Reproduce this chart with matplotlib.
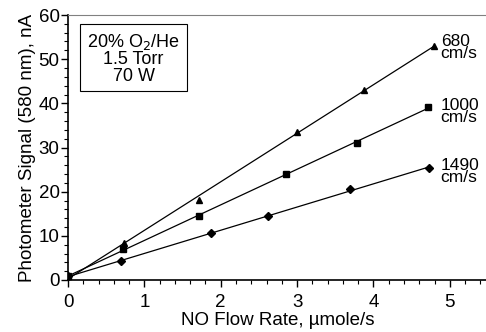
import matplotlib.pyplot as plt
import numpy as np
from matplotlib.ticker import MultipleLocator

plt.rcParams["font.family"] = ["Liberation Sans", "DejaVu Sans"]

# NO flow rate (umole/s) vs photometer signal (nA) for three flow velocities
x_680 = [0.0, 0.73, 1.72, 3.0, 3.88, 4.79]
y_680 = [0.8, 8.3, 18.1, 33.4, 43.1, 53.0]

x_1000 = [0.0, 0.72, 1.71, 2.86, 3.78, 4.72]
y_1000 = [0.8, 7.1, 14.4, 23.9, 31.1, 39.2]

x_1490 = [0.0, 0.69, 1.87, 2.62, 3.69, 4.73]
y_1490 = [0.8, 4.3, 10.6, 14.4, 20.5, 25.4]

series = [
    ("680\ncm/s", x_680, y_680, "^"),
    ("1000\ncm/s", x_1000, y_1000, "s"),
    ("1490\ncm/s", x_1490, y_1490, "D"),
]
label_y = [52.6, 38.2, 24.6]

fig = plt.figure(figsize=(4.86, 3.32), dpi=100)
ax = fig.add_axes([68 / 486, 1 - 280 / 332, 420 / 486, 265 / 332])

for (label, xs, ys, mk), ly in zip(series, label_y):
    xs = np.array(xs)
    ys = np.array(ys)
    slope, icpt = np.polyfit(xs, ys, 1)
    xf = np.array([0, xs.max()])
    ax.plot(xf, slope * xf + icpt, color="black", lw=0.9)
    ms = 4.2 if mk == "D" else 5
    ax.plot(xs, ys, mk, color="black", ms=ms, mec="black")
    ax.text(4.88, ly, label, fontsize=12.5, va="center",
            ha="left", linespacing=0.75)

ax.set_xlim(0, 5.5)
ax.set_ylim(0, 60)
ax.xaxis.set_major_locator(MultipleLocator(1))
ax.xaxis.set_minor_locator(MultipleLocator(0.2))
ax.yaxis.set_major_locator(MultipleLocator(10))
ax.yaxis.set_minor_locator(MultipleLocator(2))
ax.tick_params(which="major", direction="out", length=5, width=1,
               labelsize=13.5, pad=1)
ax.tick_params(which="minor", direction="out", length=3, width=0.8)
ax.tick_params(axis="x", pad=5)

for s in ["left", "bottom"]:
    ax.spines[s].set_linewidth(1.2)
ax.spines["top"].set_color("#808080")
ax.spines["right"].set_visible(False)

ax.set_xlabel("NO Flow Rate, µmole/s", fontsize=13.5, labelpad=1)
ax.set_ylabel("Photometer Signal (580 nm), nA", fontsize=13.5, labelpad=2)

ax.text(0.86, 50.2, "20% O$_2$/He\n1.5 Torr\n70 W", fontsize=13,
        ha="center", va="center", linespacing=0.95,
        bbox=dict(boxstyle="square,pad=0.38", fc="white", ec="black", lw=0.8),
        transform=ax.transData)

fig.savefig("out.png", dpi=100)
